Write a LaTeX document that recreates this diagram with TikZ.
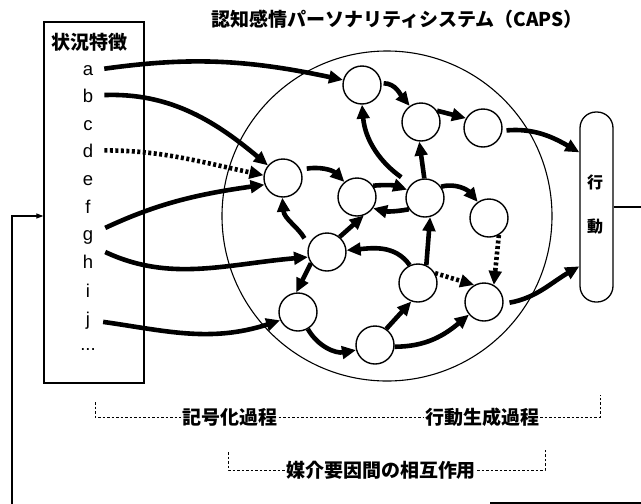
\documentclass[tikz,border=0pt]{standalone}
\usepackage{fontspec}
\setmainfont{Liberation Sans}
\newfontfamily\jp{Noto Sans CJK JP}
\usetikzlibrary{arrows.meta,calc}
\begin{document}
\begin{tikzpicture}[x=1pt,y=-1pt,
  circ/.style={circle,draw,line width=1.4pt,minimum size=38pt,inner sep=0pt},
  arr/.style={line width=4.6pt,-{Triangle[length=14pt,width=12.5pt]}},
  darr/.style={arr,dash pattern=on 3pt off 2.5pt},
  letter/.style={font=\fontsize{18.5}{18.5}\selectfont,anchor=base,inner sep=1pt},
  jlab/.style={font=\jp\bfseries\fontsize{19}{19}\selectfont,inner sep=1pt},
  brk/.style={line width=0.9pt,dash pattern=on 2.5pt off 2pt},
  thin/.style={line width=1.1pt},
]
\useasboundingbox (0,0) rectangle (641,504);
\fill[white] (0,0) rectangle (641,504);

% situation features box
\node[draw,line width=1.3pt,minimum width=100pt,minimum height=361pt,inner sep=0pt] (box) at (94,202.5) {};
\node[jlab] (boxt) at (90,42) {状況特徴};
\node[letter] (a) at (88,75) {a};
\node[letter] (b) at (88,102) {b};
\node[letter] (c) at (88,130) {c};
\node[letter] (d) at (88,157) {d};
\node[letter] (e) at (88,185) {e};
\node[letter] (f) at (88,213) {f};
\node[letter] (g) at (88,240) {g};
\node[letter] (h) at (88,268) {h};
\node[letter] (i) at (88,297) {i};
\node[letter] (j) at (88,325) {j};
\node[letter] (dots) at (88,350) {...};

% title
\node[jlab] (title) at (397,19) {認知感情パーソナリティシステム（CAPS）};

% big circle
\draw[thin] (387,216) circle[radius=165pt];

% units
\node[circ] (N0) at (283,178) {};
\node[circ] (N1) at (362,85) {};
\node[circ] (N2) at (421,122) {};
\node[circ] (N3) at (483,128) {};
\node[circ] (N4) at (357,197) {};
\node[circ] (N5) at (425,198) {};
\node[circ] (N6) at (489,218) {};
\node[circ] (N7) at (327,252) {};
\node[circ] (N8) at (298,312) {};
\node[circ] (N9) at (375,345) {};
\node[circ] (N10) at (418,283) {};
\node[circ] (N11) at (484,302) {};

% behaviour
\node[draw,line width=1.3pt,rounded corners=16pt,minimum width=33pt,minimum height=190pt,inner sep=0pt] (act) at (596.5,207) {};
\node[font=\jp\bfseries\fontsize{16}{16}\selectfont,inner sep=0pt] (t1) at (595,182) {行};
\node[font=\jp\bfseries\fontsize{16}{16}\selectfont,inner sep=0pt] (t2) at (595,227) {動};

% feedback loop
\coordinate (fbR) at (641,207);
\draw[thin] (act.east) -- (act.east -| fbR);
\coordinate (fbBL) at (490,503);
\coordinate (fbBR) at (641,503);
\draw[thin] (fbBL) -- (fbBR);
\coordinate (fbB) at (12,504);
\coordinate (fbT) at (12,216);
\draw[thin,-{Triangle[length=7pt,width=5pt]}] (fbB) -- (fbT) -- (fbT -| box.west);

% inputs
\draw[arr,shorten <=10pt] (a.east) to[out=8,in=168] (N1.165);
\draw[arr,shorten <=10pt] (b.east) to[out=2,in=140] (N0.140);
\draw[darr,shorten <=10pt] (d.east) to[out=0,in=168] (N0.172);
\draw[arr,shorten <=12pt] ([yshift=4pt]g.east) to[out=25,in=188] (N0.200);
\draw[arr,shorten <=12pt] ([yshift=-10pt]g.east) to[out=-25,in=185] (N7.195);
\draw[arr,shorten <=12pt] (j.east) to[out=-8,in=198] (N8.205);

% outputs
\coordinate (actin1) at ($(act.north west)+(0,41)$);
\coordinate (actin2) at ($(act.north west)+(0,155)$);
\draw[arr,shorten <=4pt] (N3.-8) to[out=5,in=150] (actin1);
\draw[arr,shorten <=6pt] (N11.-5) to[out=10,in=210] (actin2);

% internal
\draw[arr,shorten <=2pt] (N1.5) to[out=0,in=130] (N2.125);
\draw[arr] (N2.35) -- (N3.150);
\draw[arr] (N5.92) -- (N2.265);
\draw[arr,shorten <=12pt] (N5.135) to[out=145,in=-85] (N1.270);
\draw[arr,shorten <=6pt] (N0.25) to[out=10,in=135] (N4.130);
\draw[arr] (N4.35) to[bend left=12] (N5.155);
\draw[arr] (N5.215) to[bend left=12] (N4.-35);
\draw[arr] (N5.35) to[out=15,in=130] (N6.125);
\draw[arr] (N7.50) -- (N4.-70);
\draw[arr,shorten <=8pt] (N7.160) to[out=120,in=-85] (N0.268);
\draw[arr] (N10.65) -- (N5.-75);
\draw[arr] (N10.115) to[out=125,in=5] (N7.5);
\draw[arr] (N7.215) -- (N8.95);
\draw[arr] (N8.-60) to[out=-60,in=190] (N9.195);
\draw[arr] (N9.55) -- (N10.250);
\draw[arr] (N9.-5) to[out=0,in=220] (N11.220);
\draw[darr] (N10.30) -- (N11.120);
\draw[darr] (N6.-60) -- (N11.60);

% process labels
\node[jlab] (L1) at (230,417) {記号化過程};
\node[jlab] (L2) at (482,417) {行動生成過程};
\node[jlab] (L3) at (381,470) {媒介要因間の相互作用};
\coordinate (k1) at (95,402);
\draw[brk] (k1) -- (k1 |- L1.west) -- (L1.west);
\draw[brk] (L1.east) -- (L2.west);
\coordinate (k2) at (600,395);
\draw[brk] (L2.east) -- (L2.east -| k2) -- (k2);
\coordinate (k3) at (228,452);
\draw[brk] (k3) -- (k3 |- L3.west) -- (L3.west);
\coordinate (k4) at (545,449);
\draw[brk] (L3.east) -- (L3.east -| k4) -- (k4);
\end{tikzpicture}
\end{document}
